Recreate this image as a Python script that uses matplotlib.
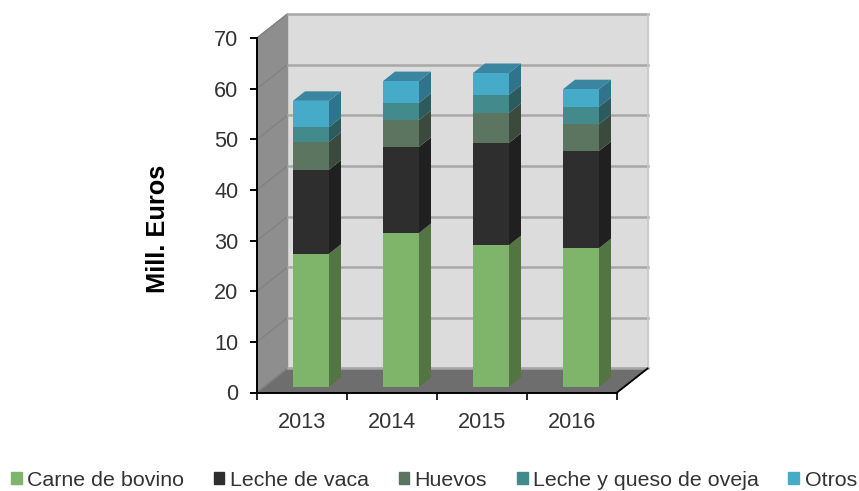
import numpy as np
import matplotlib
matplotlib.use('Agg')
import matplotlib.pyplot as plt
from matplotlib.patches import Patch

plt.rcParams['font.family'] = ['Liberation Sans', 'DejaVu Sans']

years = ['2013', '2014', '2015', '2016']
names = ['Carne de bovino', 'Leche de vaca', 'Huevos', 'Leche y queso de oveja', 'Otros']
carne = [26.3, 30.4, 28.0, 27.4]
leche = [16.6, 17.0, 20.2, 19.2]
huevos = [5.5, 5.3, 5.9, 5.3]
oveja = [2.9, 3.4, 3.6, 3.4]
otros = [5.2, 4.3, 4.3, 3.5]
front = ['#7fb56b', '#2e2e2e', '#5b7560', '#428a8c', '#46abc8']
side = ['#537544', '#202020', '#3a4a3d', '#2b5b5d', '#2f748c']
top_col = '#3a86a0'

W, H = 859, 491
fig = plt.figure(figsize=(W / 100, H / 100), dpi=100)
ax = fig.add_axes([257 / W, 1 - 392.5 / H, 360 / W, 354.5 / H])
ax.patch.set_visible(False)
ax.set_xlim(0, 4)
ax.set_ylim(0, 70)

# depth of the fake 3d box, in data units
dx = 30.5 / 90
dy = 24 / 5.064
# depth of one bar and where it sits on the floor
bx = 12 / 90
by = 9.5 / 5.064
base = 1.09
off = 0.6
bw = 0.4

ax.fill([dx, 4 + dx, 4 + dx, dx], [dy, dy, 70 + dy, 70 + dy], color='#dcdcdc', zorder=1, clip_on=False)
ax.fill([0, dx, dx, 0], [0, dy, 70 + dy, 70], color='#8e8e8e', zorder=1, clip_on=False)
ax.fill([0, 4, 4 + dx, dx], [0, 0, dy, dy], color='#6e6e6e', zorder=1, clip_on=False)

for v in range(0, 80, 10):
    ax.plot([0, dx], [v, v + dy], color='#828282', lw=1, zorder=2, clip_on=False)
    ax.plot([dx, 4 + dx], [v + dy, v + dy], color='#a8a8a8', lw=1.8, zorder=2, clip_on=False)
ax.plot([4 + dx, 4 + dx], [dy, 70 + dy], color='#c8c8c8', lw=1.2, zorder=2, clip_on=False)
ax.plot([4, 4 + dx], [0, dy], color='black', lw=1.3, zorder=6, clip_on=False)

series = [carne, leche, huevos, oveja, otros]
x = np.arange(len(years)) + off
bottom = np.full(len(years), base)
for i, vals in enumerate(series):
    vals = np.array(vals)
    ax.bar(x, vals, bw, bottom=bottom, color=front[i], zorder=5, clip_on=False)
    for xi, b, v in zip(x, bottom, vals):
        r = xi + bw / 2
        ax.fill([r, r + bx, r + bx, r], [b, b + by, b + v + by, b + v], color=side[i], lw=0, zorder=4, clip_on=False)
    bottom = bottom + vals
for xi, t in zip(x, bottom):
    l = xi - bw / 2
    r = xi + bw / 2
    ax.fill([l, r, r + bx, l + bx], [t, t, t + by, t + by], color=top_col, lw=0, zorder=4, clip_on=False)

for s in ['top', 'right']:
    ax.spines[s].set_visible(False)
for s in ['left', 'bottom']:
    ax.spines[s].set_linewidth(1.4)
    ax.spines[s].set_zorder(7)

ax.set_yticks(range(0, 80, 10))
ax.set_xticks(range(5))
ax.set_xticklabels([])
ax.set_xticks(np.arange(4) + 0.5, years, minor=True)
ax.tick_params(axis='x', which='minor', length=0, pad=13.8, labelsize=15.6, colors='#333333')
ax.tick_params(axis='x', which='major', length=5, width=1.2)
ax.tick_params(axis='y', length=5, width=1.4, labelsize=15.6, pad=8.5, labelcolor='#333333')
ax.set_ylabel('Mill. Euros', fontsize=18.3, fontweight='bold', va='center')
ax.yaxis.set_label_coords((158 - 257) / 360, (392.5 - 229) / 354.5)

handles = [Patch(color=c, label=n) for c, n in zip(front, names)]
fig.legend(handles=handles, ncol=5, loc='center left', bbox_to_anchor=(11 / W, 1 - 480 / H), frameon=False,
           fontsize=15.4, handlelength=0.5, handleheight=0.5, handletextpad=0.25, columnspacing=1.39,
           labelcolor='#333333', borderaxespad=0, borderpad=0)

fig.savefig('out.png', dpi=100)
